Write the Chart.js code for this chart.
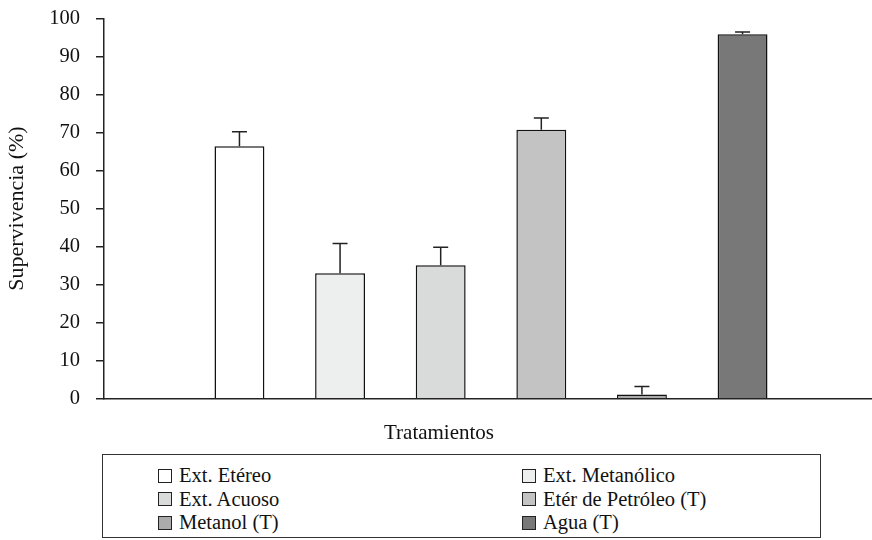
<!DOCTYPE html>
<html>
<head>
<meta charset="utf-8">
<script src="https://cdn.jsdelivr.net/npm/chart.js@4"></script>
<style>
    body { margin: 0; background: #fff; overflow: hidden; width: 872px; height: 540px; }
    #wrap { position: absolute; left: 0; top: -10px; width: 882px; height: 460px; }
    #leyenda {
        position: absolute; left: 102px; top: 454px; width: 719px; height: 84px;
        border: 1px solid #333; box-sizing: border-box;
        font-family: "Liberation Serif", serif; font-size: 20.5px; color: #111;
    }
    .item { position: absolute; display: flex; align-items: center; height: 23px; white-space: nowrap; }
    .caja { width: 12px; height: 12px; border: 1px solid #222; margin-right: 7px; }
</style>
</head>
<body>
<div id="wrap"><canvas id="grafico"></canvas></div>
<div id="leyenda"></div>
<script>
// Datos del grafico
const tratamientos = ['Ext. Etéreo', 'Ext. Metanólico', 'Ext. Acuoso', 'Etér de Petróleo (T)', 'Metanol (T)', 'Agua (T)'];
const supervivencia = [66.4, 33.0, 35.1, 70.7, 1.1, 95.8];
const errores = [3.8, 7.8, 4.7, 3.1, 2.1, 0.6];
const colores = ['#FFFFFF', '#EDEFEE', '#D9DBDA', '#C3C3C3', '#ABABAB', '#777877'];
const yMin = 0;
const yMax = 100;
const yPaso = 10;

const fuente = '"Liberation Serif", serif';

// Barras de error (solo hacia arriba)
const barrasError = {
    id: 'barrasError',
    afterDatasetsDraw(chart) {
        const ctx = chart.ctx;
        const y = chart.scales.y;
        ctx.save();
        ctx.strokeStyle = '#222';
        ctx.lineWidth = 1.5;
        chart.data.datasets.forEach((ds, i) => {
            const bar = chart.getDatasetMeta(i).data[0];
            const valor = ds.data[0];
            const yTop = y.getPixelForValue(valor);
            const yCap = y.getPixelForValue(valor + errores[i]);
            ctx.beginPath();
            ctx.moveTo(bar.x, yTop);
            ctx.lineTo(bar.x, yCap);
            ctx.moveTo(bar.x - 7.5, yCap);
            ctx.lineTo(bar.x + 7.5, yCap);
            ctx.stroke();
        });
        ctx.restore();
    }
};

const datasets = tratamientos.map((t, i) => ({
    label: t,
    data: [supervivencia[i]],
    backgroundColor: colores[i],
    borderColor: '#111',
    borderWidth: 1.5,
    borderSkipped: 'start',
    categoryPercentage: 0.78,
    barPercentage: 0.496
}));

new Chart(document.getElementById('grafico'), {
    type: 'bar',
    data: { labels: [''], datasets: datasets },
    plugins: [barrasError],
    options: {
        responsive: true,
        maintainAspectRatio: false,
        animation: false,
        layout: { padding: { left: 0, right: 4, top: 0, bottom: 0 } },
        plugins: {
            legend: { display: false },
            tooltip: { enabled: false },
            title: {
                display: true,
                position: 'bottom',
                text: 'Tratamientos',
                color: '#111',
                font: { family: fuente, size: 21, weight: 'normal' },
                padding: { top: 0, bottom: 4 }
            }
        },
        scales: {
            x: {
                grid: { display: false },
                ticks: { display: false },
                border: { display: true, color: '#222', width: 1.5 },
                afterFit(scale) { scale.height = 22; }
            },
            y: {
                min: yMin,
                max: yMax,
                ticks: {
                    stepSize: yPaso,
                    color: '#111',
                    padding: 16,
                    font: { family: fuente, size: 20.5 }
                },
                grid: { drawOnChartArea: false, drawTicks: true, tickLength: 8, color: '#222', lineWidth: 1.5 },
                border: { display: true, color: '#222', width: 1.5 },
                title: {
                    display: true,
                    text: 'Supervivencia (%)',
                    color: '#111',
                    font: { family: fuente, size: 22 },
                    padding: { top: 4, bottom: 0 }
                },
                afterFit(scale) { scale.width = 104; }
            }
        }
    }
});

// Leyenda en dos columnas
const leyenda = document.getElementById('leyenda');
tratamientos.forEach((t, i) => {
    const item = document.createElement('div');
    item.className = 'item';
    item.style.left = (i % 2 === 0 ? 55 : 419) + 'px';
    item.style.top = (9 + Math.floor(i / 2) * 23.5) + 'px';
    item.innerHTML = '<span class="caja" style="background:' + colores[i] + '"></span>' + t;
    leyenda.appendChild(item);
});
</script>
</body>
</html>
